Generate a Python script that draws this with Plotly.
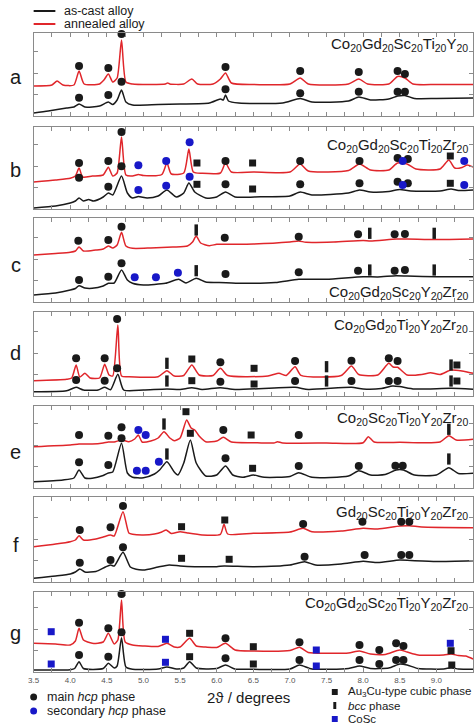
import plotly.graph_objects as go

# ---------------- data (intensity in arbitrary units) ----------------
PANEL_LABELS = ["a", "b", "c", "d", "e", "f", "g"]
FORMULAS = [
    "Co<sub>20</sub>Gd<sub>20</sub>Sc<sub>20</sub>Ti<sub>20</sub>Y<sub>20</sub>",
    "Co<sub>20</sub>Gd<sub>20</sub>Sc<sub>20</sub>Ti<sub>20</sub>Zr<sub>20</sub>",
    "Co<sub>20</sub>Gd<sub>20</sub>Sc<sub>20</sub>Y<sub>20</sub>Zr<sub>20</sub>",
    "Co<sub>20</sub>Gd<sub>20</sub>Ti<sub>20</sub>Y<sub>20</sub>Zr<sub>20</sub>",
    "Co<sub>20</sub>Sc<sub>20</sub>Ti<sub>20</sub>Y<sub>20</sub>Zr<sub>20</sub>",
    "Gd<sub>20</sub>Sc<sub>20</sub>Ti<sub>20</sub>Y<sub>20</sub>Zr<sub>20</sub>",
    "Co<sub>20</sub>Gd<sub>20</sub>Sc<sub>20</sub>Ti<sub>20</sub>Y<sub>20</sub>Zr<sub>20</sub>",
]
X_TICK_LABELS = ["3.5", "4.0", "4.5", "5.0", "5.5", "6.0", "6.5", "7.0", "7.5", "8.0", "8.5", "9.0", "9.5"]

A_ANNEALED = [(3.5,30),(3.75,31),(3.82,35),(3.9,31),(4.05,31),(4.12,45),(4.19,32),(4.4,32),(4.46,36),(4.52,42),(4.58,34),(4.64,38),(4.70,76),(4.76,34),(4.85,32),(5.1,31.5),(5.3,32),(5.33,33),(5.36,32),(5.55,32),(5.66,37),(5.74,32),(5.95,32),(6.05,37),(6.12,43),(6.2,33),(6.5,31.5),(7.0,32),(7.14,38),(7.25,32),(7.8,32),(7.94,37),(8.06,32),(8.35,32),(8.47,39.5),(8.57,38),(8.68,32),(9.0,31.5),(9.5,31.5)]
A_CAST = [(3.5,3),(3.7,5),(3.95,8),(4.05,9),(4.12,12),(4.2,9),(4.4,10),(4.52,14),(4.58,11.5),(4.64,16),(4.70,26),(4.76,14),(4.85,11),(5.2,11.5),(5.5,12),(5.9,13),(6.05,17),(6.09,16),(6.12,21),(6.16,15),(6.3,13),(6.9,13),(7.14,17.5),(7.3,14),(7.8,15),(7.94,19),(8.1,16),(8.35,17),(8.47,20),(8.57,20.5),(8.7,17.5),(9.0,17.5),(9.5,18)]
A_ANNEALED_MARKS = [("hcp",4.12,50),("hcp",4.52,48),("hcp",4.70,82),("hcp",6.12,49),("hcp",7.14,45),("hcp",7.94,44),("hcp",8.47,45),("hcp",8.57,42)]
A_CAST_MARKS = [("hcp",4.12,18.3),("hcp",4.52,21),("hcp",4.70,34.3),("hcp",6.12,26.7),("hcp",7.14,22.7),("hcp",7.94,24.3),("hcp",8.47,24.3),("hcp",8.57,24.3)]

B_ANNEALED = [(3.5,27),(3.8,29),(4.0,30.7),(4.07,33),(4.12,41),(4.17,32),(4.3,33),(4.45,34),(4.52,41.7),(4.58,33),(4.64,36),(4.70,72),(4.76,34),(4.85,33),(4.93,34.5),(5.0,33.5),(5.25,34.5),(5.32,46),(5.38,35),(5.55,36),(5.62,60),(5.68,37),(5.8,35.7),(6.05,36),(6.12,46),(6.2,37),(6.5,37),(7.0,37),(7.14,45),(7.25,38),(7.8,38.5),(7.95,45),(8.1,39),(8.35,39),(8.47,46),(8.6,45),(8.72,40),(9.05,40),(9.17,49),(9.25,41),(9.35,41.5),(9.42,44),(9.5,42)]
B_CAST = [(3.5,1),(3.8,3),(4.0,6),(4.07,8),(4.12,11),(4.18,8),(4.25,9.5),(4.32,8),(4.45,12),(4.52,16),(4.58,14),(4.70,33),(4.78,16),(4.85,11),(4.93,12.5),(5.05,11),(5.2,13),(5.32,19),(5.45,12),(5.55,16),(5.62,26),(5.7,17),(5.85,11),(6.0,12),(6.12,17),(6.25,12),(6.6,12.3),(7.0,13),(7.14,17),(7.3,14),(7.8,16),(7.95,19),(8.1,17),(8.35,17.5),(8.5,19.5),(8.65,18),(9.05,18),(9.2,20),(9.3,18.5),(9.5,19)]
B_ANNEALED_MARKS = [("hcp",4.12,46),("hcp",4.52,48),("hcp",4.70,77),("hcp",6.12,48),("hcp",7.14,48),("hcp",7.95,48),("hcp",8.47,51),("hcp",8.61,50),
                    ("sec",4.93,43.7),("sec",5.31,48),("sec",5.63,66.7),("sec",8.54,48),("sec",9.38,48),
                    ("au3cu",5.73,46),("au3cu",6.49,46),("au3cu",9.19,53)]
B_CAST_MARKS = [("hcp",4.12,31.3),("hcp",4.52,22.3),("hcp",4.70,42.7),("hcp",6.12,24.7),("hcp",7.14,24.7),("hcp",7.95,25.7),("hcp",8.47,27.3),("hcp",8.61,25.7),
                ("sec",4.93,19),("sec",5.31,23.3),("sec",5.63,32.3),("sec",8.54,24),("sec",9.38,24),
                ("au3cu",5.73,24.7),("au3cu",6.49,20),("au3cu",9.19,25.7)]

C_ANNEALED = [(3.5,47),(3.8,48.5),(4.0,49.7),(4.07,51),(4.12,55),(4.18,51),(4.35,52),(4.45,53),(4.52,56),(4.58,54),(4.64,57),(4.70,69.7),(4.76,56),(4.85,53.7),(5.1,54),(5.4,55),(5.6,56),(5.67,60),(5.72,66),(5.78,59),(5.9,56.3),(6.0,57.7),(6.1,57.7),(6.5,58),(7.0,60),(7.12,61),(7.22,59.7),(7.6,60),(8.0,61.5),(8.1,61),(8.45,63),(8.6,63),(9.0,62.5),(9.5,63)]
C_CAST = [(3.5,7),(3.8,9),(4.0,12),(4.07,13.5),(4.12,16.3),(4.2,14),(4.3,13.7),(4.45,16),(4.52,18.7),(4.6,19),(4.70,32),(4.78,22),(4.85,18.7),(5.0,17),(5.3,18.7),(5.48,22.7),(5.58,19),(5.72,23.7),(5.85,20),(6.0,19.5),(6.3,18.7),(6.8,19.5),(7.12,22.7),(7.5,22.7),(8.0,25.3),(8.2,25),(8.45,26.3),(8.6,26),(9.0,25.3),(9.5,25.3)]
C_ANNEALED_MARKS = [("hcp",4.11,61.3),("hcp",4.52,62),("hcp",4.70,75.3),("hcp",6.11,64.3),("hcp",7.12,65.3),("hcp",7.93,67.7),("hcp",8.43,67.7),("hcp",8.57,68),
                    ("bcc",5.72,72),("bcc",8.09,68.7),("bcc",8.97,68.7)]
C_CAST_MARKS = [("hcp",4.12,22),("hcp",4.52,25.3),("hcp",4.70,38.7),("hcp",6.12,28),("hcp",7.12,29.7),("hcp",7.93,31.3),("hcp",8.43,31.3),("hcp",8.57,32),
                ("sec",4.88,24.7),("sec",5.17,24.7),("sec",5.47,29.3),
                ("bcc",5.72,31.3),("bcc",8.09,32),("bcc",8.97,32)]

D_ANNEALED = [(3.5,15.3),(3.95,16.7),(4.02,18),(4.08,31),(4.13,19),(4.2,22.7),(4.27,18),(4.4,18),(4.47,31.7),(4.53,21),(4.58,20),(4.65,71),(4.7,20),(4.8,19.3),(5.2,19.3),(5.32,25.3),(5.42,20),(5.55,20.5),(5.66,31),(5.76,21),(5.95,20.5),(6.05,27.7),(6.15,20.5),(6.7,20),(6.85,22.7),(6.95,20.5),(7.07,29.3),(7.15,20.7),(7.7,20.5),(7.84,30),(7.94,21.5),(8.2,21),(8.35,32.7),(8.41,29),(8.47,28.7),(8.6,21),(8.8,21.5),(8.92,23.3),(9.05,21.5),(9.2,26),(9.35,25),(9.5,22.7)]
D_CAST = [(3.5,4.3),(3.95,5.3),(4.08,8.7),(4.18,6),(4.38,6),(4.47,8.7),(4.55,6.3),(4.65,21.7),(4.73,6),(5.0,6),(5.32,7),(5.5,6.5),(5.66,8.3),(5.8,6.5),(6.05,8.3),(6.25,6.5),(7.07,8.7),(7.25,6.5),(7.84,8.7),(8.0,7),(8.25,7.5),(8.4,10),(8.5,9.5),(8.7,7),(9.2,7.7),(9.5,6.7)]
D_ANNEALED_MARKS = [("hcp",4.08,37.7),("hcp",4.47,37.7),("hcp",4.64,77),("hcp",6.05,33.7),("hcp",7.07,35),("hcp",7.84,35.3),("hcp",8.35,37.7),("hcp",8.47,35),
                    ("au3cu",5.66,37),("au3cu",6.51,27.7),("au3cu",9.28,31),
                    ("bcc",5.32,32.7),("bcc",7.50,29.3),("bcc",9.20,31)]
D_CAST_MARKS = [("hcp",4.08,16),("hcp",4.47,15.3),("hcp",4.64,27.7),("hcp",6.05,14.3),("hcp",7.07,15),("hcp",7.84,15),("hcp",8.35,15),("hcp",8.47,15),
                ("au3cu",5.66,15.3),("au3cu",6.51,12),("au3cu",9.28,15),
                ("bcc",5.32,15),("bcc",7.50,15),("bcc",9.20,15)]

E_ANNEALED = [(3.5,41.3),(4.0,43),(4.12,44),(4.3,44),(4.45,45),(4.52,46),(4.6,46),(4.7,48),(4.8,46.3),(4.88,49),(4.93,53),(4.98,46),(5.1,47),(5.2,50),(5.28,56.3),(5.36,50),(5.42,47.3),(5.5,50),(5.59,68),(5.65,60),(5.70,58),(5.76,52),(5.85,46.3),(6.0,47),(6.09,50.7),(6.2,46),(6.5,45.3),(6.78,45),(6.83,46.3),(6.9,45),(7.5,45),(8.0,45.3),(8.07,51.3),(8.15,46),(8.5,45.7),(9.05,46),(9.17,52.3),(9.27,48),(9.5,48.7)]
E_CAST = [(3.5,6.3),(3.9,8),(4.05,10),(4.12,18),(4.2,10),(4.3,9.7),(4.45,12.5),(4.52,15),(4.58,16),(4.70,44.7),(4.78,15),(4.85,10.7),(5.0,10.3),(5.15,14),(5.22,18),(5.32,26.3),(5.42,16),(5.47,13),(5.55,25),(5.64,48),(5.72,25),(5.85,12),(6.0,13),(6.12,22),(6.22,13),(6.35,10.7),(6.5,13),(6.65,10.7),(7.0,11.5),(7.12,15.3),(7.3,10.7),(7.8,12),(7.94,17.3),(8.1,13),(8.3,13.5),(8.45,18),(8.55,18),(8.7,13),(9.0,13),(9.17,20.3),(9.3,14.5),(9.5,14.7)]
E_ANNEALED_MARKS = [("hcp",4.12,53),("hcp",4.52,52.3),("hcp",4.70,60.7),("hcp",6.09,58),("hcp",7.12,53),
                    ("sec",4.93,58),("sec",5.03,53),
                    ("bcc",5.28,64),("bcc",9.17,58.7),
                    ("au3cu",5.58,76.3),("au3cu",6.47,53)]
E_CAST_MARKS = [("hcp",4.12,25.7),("hcp",4.52,23),("hcp",4.70,49.7),("hcp",6.12,29.7),("hcp",7.12,22),("hcp",7.94,22),("hcp",8.44,22.3),("hcp",8.54,22.3),
                ("sec",4.91,17.3),("sec",5.03,17.3),("sec",5.21,26.3),
                ("bcc",5.32,34),("bcc",9.17,29),
                ("au3cu",5.64,54.7),("au3cu",6.49,19.7)]

F_ANNEALED = [(3.5,35.3),(3.8,38),(4.0,40.3),(4.07,42),(4.12,46.3),(4.18,42),(4.35,43),(4.45,45),(4.55,47),(4.6,46),(4.72,70.3),(4.8,49),(4.85,47.7),(5.0,47),(5.15,48),(5.25,50),(5.31,52),(5.38,48.5),(5.5,50.3),(5.6,49),(5.8,47),(6.05,47.7),(6.1,57.7),(6.15,48),(6.5,48.7),(7.0,50),(7.18,53.7),(7.3,50.3),(7.7,51),(8.0,53.7),(8.2,53),(8.5,56),(8.63,56.3),(8.8,55),(9.5,54.3)]
F_CAST = [(3.5,3.7),(3.8,6),(4.0,8),(4.07,10),(4.13,13),(4.2,10),(4.35,10.5),(4.48,15),(4.55,17),(4.6,16),(4.72,29.7),(4.82,15),(4.9,12.7),(5.0,12),(5.2,15),(5.35,17),(5.5,16),(5.7,15.3),(6.0,15.3),(6.1,16),(6.5,15.3),(7.0,17),(7.2,20.3),(7.35,17),(7.7,18),(8.0,20.7),(8.2,19.5),(8.5,22),(8.65,21.5),(9.0,20.5),(9.5,21.3)]
F_ANNEALED_MARKS = [("hcp",4.13,52),("hcp",4.55,54.7),("hcp",4.72,76),("hcp",7.18,58),("hcp",7.99,60.3),("hcp",8.52,60.3),("hcp",8.63,60.3),
                    ("au3cu",5.52,55.3),("au3cu",6.11,62)]
F_CAST_MARKS = [("hcp",4.13,19.3),("hcp",4.55,22),("hcp",4.72,34.7),("hcp",7.20,25.3),("hcp",8.02,27),("hcp",8.52,27),("hcp",8.63,27),
                ("au3cu",5.52,23.7),("au3cu",6.17,22.7)]

G_ANNEALED = [(3.5,28.7),(3.8,28),(4.0,27),(4.07,31),(4.12,43.7),(4.18,32),(4.3,28.7),(4.45,30),(4.52,38.7),(4.6,28),(4.65,32),(4.70,72),(4.75,30),(4.85,27),(5.0,26),(5.2,25.5),(5.32,28.7),(5.42,25),(5.5,25),(5.63,33.7),(5.72,26),(5.85,25),(6.0,24.5),(6.12,28.7),(6.25,22),(6.5,21),(7.0,21.5),(7.13,24.7),(7.25,19.5),(7.5,18.7),(7.8,19),(7.95,21),(8.1,18),(8.3,17.5),(8.5,22),(8.6,20),(8.75,17),(9.1,17),(9.2,18),(9.3,16.5),(9.4,16),(9.5,13)]
G_CAST = [(3.5,2),(4.0,2.3),(4.06,3.5),(4.12,10.3),(4.18,3.5),(4.45,3.5),(4.52,8.7),(4.6,4),(4.64,6),(4.70,34.3),(4.76,5),(4.85,2.7),(5.2,3),(5.32,5),(5.45,3),(5.55,4),(5.63,10.3),(5.72,4),(6.0,3.5),(6.12,7),(6.25,3),(6.5,2.7),(7.0,3),(7.13,7),(7.3,3),(7.8,3.5),(7.95,6),(8.1,3.5),(8.35,4),(8.5,8),(8.6,7),(8.75,3.5),(9.1,3),(9.2,4.3),(9.3,3),(9.5,2.7)]
G_ANNEALED_MARKS = [("hcp",4.12,49.3),("hcp",4.52,43.7),("hcp",4.70,78),("hcp",6.12,33.7),("hcp",7.13,29.7),("hcp",7.95,27),("hcp",8.22,22),("hcp",8.45,28.7),("hcp",8.55,26),
                    ("cosc",3.74,40.3),("cosc",5.30,32.7),("cosc",7.36,22),("cosc",9.19,28.7),
                    ("au3cu",5.63,38.7),("au3cu",6.50,25.3),("au3cu",9.20,21.3)]
G_CAST_MARKS = [("hcp",4.12,17),("hcp",4.52,15.3),("hcp",4.70,39.7),("hcp",6.12,13.7),("hcp",7.13,12),("hcp",7.95,12),("hcp",8.22,8),("hcp",8.45,12),("hcp",8.55,12),
                ("cosc",3.74,8),("cosc",5.30,9.7),("cosc",7.36,6),
                ("au3cu",5.63,15.3),("au3cu",6.50,8),("au3cu",9.21,7)]

CAST_CURVES = [A_CAST, B_CAST, C_CAST, D_CAST, E_CAST, F_CAST, G_CAST]
ANNEALED_CURVES = [A_ANNEALED, B_ANNEALED, C_ANNEALED, D_ANNEALED, E_ANNEALED, F_ANNEALED, G_ANNEALED]
CAST_MARKS = [A_CAST_MARKS, B_CAST_MARKS, C_CAST_MARKS, D_CAST_MARKS, E_CAST_MARKS, F_CAST_MARKS, G_CAST_MARKS]
ANNEALED_MARKS = [A_ANNEALED_MARKS, B_ANNEALED_MARKS, C_ANNEALED_MARKS, D_ANNEALED_MARKS, E_ANNEALED_MARKS, F_ANNEALED_MARKS, G_ANNEALED_MARKS]

# ---------------- layout / style ----------------
W, H = 474, 727
FONT = "Arial, Liberation Sans, Helvetica, sans-serif"
RED = "#e0262b"
BLACK = "#1a1a1a"
BLUE = "#1818c8"
FRAME = "#8a8a8a"
X_LEFT, X_RIGHT = 28, 473
PANEL_BOXES = [(33, 116), (127, 209), (218, 302), (312, 396), (406, 488), (497, 582), (592, 672)]
FORMULA_PY = [45, 145, 292, 325, 418, 512, 603]
LABEL_PY = [77, 170, 265, 353, 452, 545, 633]

PHASE_STYLE = {
    "hcp": dict(symbol="circle", size=8, color=BLACK, line=dict(width=0)),
    "sec": dict(symbol="circle", size=8, color=BLUE, line=dict(width=0)),
    "au3cu": dict(symbol="square", size=7, color=BLACK, line=dict(width=0)),
    "cosc": dict(symbol="square", size=7, color=BLUE, line=dict(width=0)),
    "bcc": dict(symbol="line-ns", size=8, color=BLACK, line=dict(width=3.5, color=BLACK)),
}


def px_x(p):
    return p / W


def px_y(p):
    return 1 - p / H


fig = go.Figure()
layout_axes = {}
for i, (top, bottom) in enumerate(PANEL_BOXES):
    n = "" if i == 0 else str(i + 1)
    xa, ya = "x" + n, "y" + n
    h = bottom - top
    layout_axes["xaxis" + n] = dict(
        domain=[px_x(X_LEFT), px_x(X_RIGHT)], anchor=ya, range=[3.5, 9.5],
        showline=True, linecolor=FRAME, linewidth=1, mirror="ticks",
        ticks="inside", ticklen=4, tickcolor=FRAME, tickwidth=1,
        tickmode="linear", tick0=3.5, dtick=0.25,
        showticklabels=False, showgrid=False, zeroline=False,
    )
    layout_axes["yaxis" + n] = dict(
        domain=[px_y(bottom), px_y(top)], anchor=xa, range=[0, h],
        showline=True, linecolor=FRAME, linewidth=1, mirror="ticks",
        ticks="inside", ticklen=4, tickcolor=FRAME, tickwidth=1,
        tickmode="linear", tick0=0, dtick=21.5,
        showticklabels=False, showgrid=False, zeroline=False,
    )
    for curve, color, name in [(CAST_CURVES[i], BLACK, "as-cast alloy"), (ANNEALED_CURVES[i], RED, "annealed alloy")]:
        fig.add_trace(go.Scatter(
            x=[p[0] for p in curve], y=[p[1] for p in curve], mode="lines",
            line=dict(color=color, width=1.5, shape="spline", smoothing=0.6),
            name=name, showlegend=False, xaxis=xa, yaxis=ya, hoverinfo="skip",
        ))
    for marks in (CAST_MARKS[i], ANNEALED_MARKS[i]):
        for phase, style in PHASE_STYLE.items():
            pts = [m for m in marks if m[0] == phase]
            if not pts:
                continue
            fig.add_trace(go.Scatter(
                x=[m[1] for m in pts], y=[m[2] for m in pts], mode="markers",
                marker=style, showlegend=False, xaxis=xa, yaxis=ya, cliponaxis=False,
                hoverinfo="skip",
            ))

# bottom axis tick labels
layout_axes["xaxis7"].update(
    showticklabels=True, tickvals=[3.5 + 0.5 * k for k in range(len(X_TICK_LABELS))],
    ticktext=X_TICK_LABELS, tickmode="array",
    tickfont=dict(family=FONT, size=8, color="#555"),
)
layout_axes["xaxis7"]["minor"] = dict(ticks="inside", ticklen=4, tickcolor=FRAME, dtick=0.25, tick0=3.5)

annotations = []
for i in range(len(PANEL_BOXES)):
    annotations.append(dict(
        text=FORMULAS[i], x=px_x(470), y=px_y(FORMULA_PY[i]), xref="paper", yref="paper",
        xanchor="right", yanchor="middle", showarrow=False,
        font=dict(family=FONT, size=15, color=BLACK),
    ))
    annotations.append(dict(
        text=PANEL_LABELS[i], x=px_x(10), y=px_y(LABEL_PY[i]), xref="paper", yref="paper",
        xanchor="center", yanchor="middle", showarrow=False,
        font=dict(family=FONT, size=20, color=BLACK),
    ))

# top legend
shapes = [
    dict(type="line", xref="paper", yref="paper", x0=px_x(28), x1=px_x(50), y0=px_y(11), y1=px_y(11),
         line=dict(color=BLACK, width=2)),
    dict(type="line", xref="paper", yref="paper", x0=px_x(28), x1=px_x(50), y0=px_y(24), y1=px_y(24),
         line=dict(color=RED, width=2)),
]
for txt, py in [("as-cast alloy", 11), ("annealed alloy", 24)]:
    annotations.append(dict(text=txt, x=px_x(57), y=px_y(py), xref="paper", yref="paper",
                            xanchor="left", yanchor="middle", showarrow=False,
                            font=dict(family=FONT, size=12.5, color=BLACK)))


def circle(cx, cy, r, color):
    return dict(type="circle", xref="paper", yref="paper", x0=px_x(cx - r), x1=px_x(cx + r),
                y0=px_y(cy + r), y1=px_y(cy - r), fillcolor=color, line=dict(width=0))


def rect(cx, cy, w, h, color):
    return dict(type="rect", xref="paper", yref="paper", x0=px_x(cx - w / 2), x1=px_x(cx + w / 2),
                y0=px_y(cy + h / 2), y1=px_y(cy - h / 2), fillcolor=color, line=dict(width=0))


shapes += [
    circle(28, 697, 3.5, BLACK), circle(28, 711, 3.5, BLUE),
    rect(333, 692, 6, 6, BLACK), rect(333, 705.5, 3, 7, BLACK), rect(333, 719, 6, 6, BLUE),
]
for txt, x, py, fs in [("main <i>hcp</i> phase", 40, 697, 12.5), ("secondary <i>hcp</i> phase", 40, 711, 12.5),
                       ("Au<sub>3</sub>Cu-type cubic phase", 344, 692, 11.5), ("<i>bcc</i> phase", 344, 705.5, 11.5),
                       ("CoSc", 344, 719, 11.5)]:
    annotations.append(dict(text=txt, x=px_x(x), y=px_y(py), xref="paper", yref="paper",
                            xanchor="left", yanchor="middle", showarrow=False,
                            font=dict(family=FONT, size=fs, color=BLACK)))
annotations.append(dict(text="2ϑ / degrees", x=px_x(246), y=px_y(697), xref="paper", yref="paper",
                        xanchor="center", yanchor="middle", showarrow=False,
                        font=dict(family=FONT, size=15, color=BLACK)))

fig.update_layout(
    width=W, height=H, margin=dict(l=0, r=0, t=0, b=0),
    paper_bgcolor="white", plot_bgcolor="white",
    annotations=annotations, shapes=shapes, showlegend=False,
    **layout_axes,
)
fig.write_html(
    "out.html",
    config={"displayModeBar": False},
    post_script="document.body.style.margin='0';document.body.style.padding='0';"
                "document.body.style.overflow='hidden';document.documentElement.style.overflow='hidden';",
)
